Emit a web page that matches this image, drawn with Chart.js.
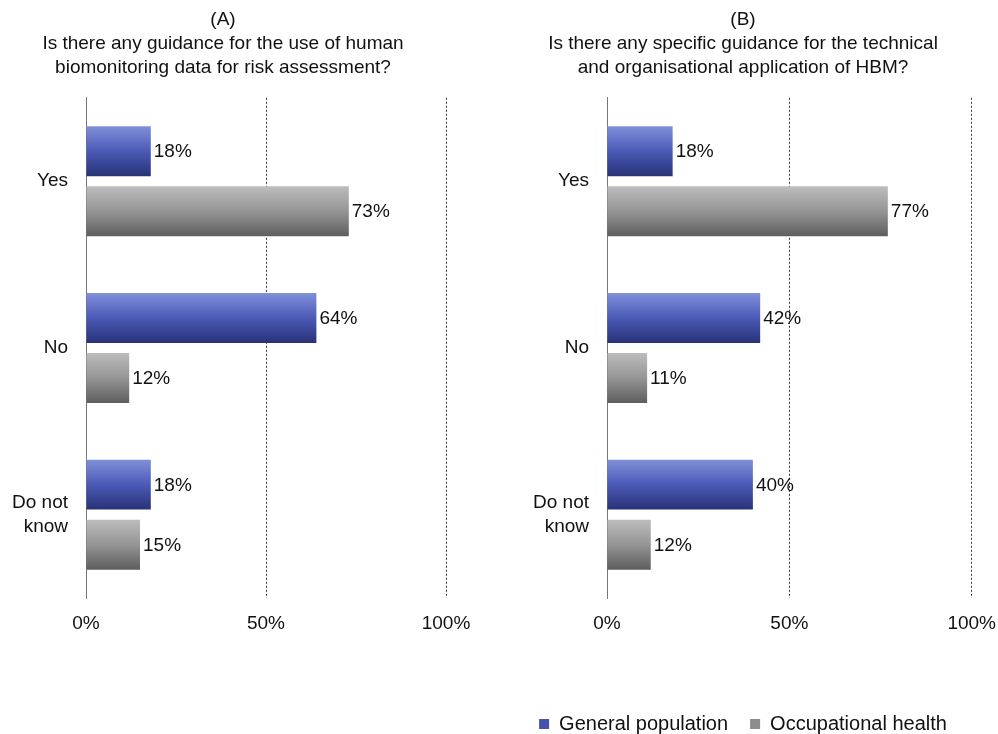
<!DOCTYPE html>
<html lang="en">
<head>
    <meta charset="UTF-8">
    <title>HBM guidance survey</title>
    <script src="https://cdn.jsdelivr.net/npm/chart.js"></script>
    <style>
        body {
            margin: 0;
            background: #ffffff;
            width: 998px;
            height: 734px;
            position: relative;
            overflow: hidden;
        }
        .panel {
            position: absolute;
            top: 0;
        }
        #panelA { left: 0; width: 490px; height: 734px; }
        #panelB { left: 493px; width: 517px; height: 744px; }
    </style>
</head>
<body>
    <div class="panel" id="panelA"><canvas id="chartA"></canvas></div>
    <div class="panel" id="panelB"><canvas id="chartB"></canvas></div>

    <script>
        const categories = ['Yes', 'No', ['Do not', 'know']];
        const seriesNames = ['General population', 'Occupational health'];

        const titleA = ['(A)', 'Is there any guidance for the use of human', 'biomonitoring data for risk assessment?'];
        const generalA = [18, 64, 18];
        const occupationalA = [73, 12, 15];

        const titleB = ['(B)', 'Is there any specific guidance for the technical', 'and organisational application of HBM?'];
        const generalB = [18, 42, 40];
        const occupationalB = [77, 11, 12];

        const xTicks = [0, 50, 100];

        const FONT = "'Liberation Sans', Arial, sans-serif";
        const PLOT_BOTTOM = 598;
        const CAT_PCT = 0.72;

        // vertical gradient for each bar, based on where its slot sits on the y scale
        function barGradient(top, mid, bottom, upper) {
            return function (ctx) {
                const chart = ctx.chart;
                const y = chart.scales.y;
                if (!chart.chartArea || !y) return mid;
                const center = y.getPixelForValue(ctx.dataIndex);
                const slot = (y.height / categories.length) * CAT_PCT / 2;
                const y0 = upper ? center - slot : center;
                const g = chart.ctx.createLinearGradient(0, y0 + 5, 0, y0 + slot - 5);
                g.addColorStop(0, top);
                g.addColorStop(0.5, mid);
                g.addColorStop(1, bottom);
                return g;
            };
        }

        const valueLabels = {
            id: 'valueLabels',
            afterDatasetsDraw(chart) {
                const c = chart.ctx;
                c.save();
                c.font = '19px ' + FONT;
                c.fillStyle = '#111';
                c.textAlign = 'left';
                c.textBaseline = 'middle';
                chart.data.datasets.forEach((ds, i) => {
                    chart.getDatasetMeta(i).data.forEach((bar, j) => {
                        c.fillText(ds.data[j] + '%', bar.x + 3, bar.y + 1);
                    });
                });
                c.restore();
            }
        };

        function makeChart(id, title, general, occupational, yWidth, padRight, showLegend) {
            return new Chart(document.getElementById(id), {
                type: 'bar',
                data: {
                    labels: categories,
                    datasets: [{
                        label: seriesNames[0],
                        data: general,
                        backgroundColor: barGradient('#8190da', '#4b5ab6', '#283276', true),
                        borderWidth: 0,
                        categoryPercentage: CAT_PCT,
                        barPercentage: 0.833
                    }, {
                        label: seriesNames[1],
                        data: occupational,
                        backgroundColor: barGradient('#bdbdbd', '#959595', '#5e5e5e', false),
                        borderWidth: 0,
                        categoryPercentage: CAT_PCT,
                        barPercentage: 0.833
                    }]
                },
                options: {
                    indexAxis: 'y',
                    responsive: true,
                    maintainAspectRatio: false,
                    animation: false,
                    layout: { padding: { left: 0, right: padRight, top: 0, bottom: 0 } },
                    plugins: {
                        title: {
                            display: true,
                            text: title,
                            color: '#111',
                            font: { family: FONT, size: 19, weight: 'normal', lineHeight: 1.26 },
                            padding: { top: 8, bottom: 18 }
                        },
                        legend: {
                            display: showLegend,
                            position: 'bottom',
                            labels: {
                                color: '#111',
                                font: { family: FONT, size: 20 },
                                boxWidth: 10,
                                boxHeight: 10,
                                padding: 22,
                                generateLabels(chart) {
                                    const fills = ['#4352ad', '#8c8c8c'];
                                    return chart.data.datasets.map((ds, i) => ({
                                        text: ds.label,
                                        fillStyle: fills[i],
                                        strokeStyle: fills[i],
                                        lineWidth: 0,
                                        fontColor: '#111',
                                        datasetIndex: i
                                    }));
                                }
                            }
                        },
                        tooltip: { enabled: false }
                    },
                    scales: {
                        x: {
                            min: 0,
                            max: 100,
                            afterBuildTicks(s) { s.ticks = xTicks.map(v => ({ value: v })); },
                            afterFit(s) {
                                const lg = s.chart.legend;
                                const lh = (lg && lg.options.display) ? lg.height : 0;
                                s.height = s.chart.height - PLOT_BOTTOM - lh;
                            },
                            ticks: {
                                color: '#111',
                                font: { family: FONT, size: 19 },
                                padding: 14,
                                callback: v => v + '%'
                            },
                            grid: {
                                color: ctx => ctx.tick && ctx.tick.value === 0 ? 'rgba(0,0,0,0)' : '#333',
                                lineWidth: 1,
                                drawTicks: false
                            },
                            border: { display: false, dash: [2, 2] }
                        },
                        y: {
                            afterFit(s) { s.width = yWidth; },
                            ticks: {
                                color: '#111',
                                font: { family: FONT, size: 19, lineHeight: 1.25 },
                                padding: 18
                            },
                            grid: { display: false, drawTicks: false },
                            border: { display: true, color: '#777', width: 1 }
                        }
                    }
                },
                plugins: [valueLabels]
            });
        }

        makeChart('chartA', titleA, generalA, occupationalA, 86, 44, false);
        makeChart('chartB', titleB, generalB, occupationalB, 114, 17, true);
    </script>
</body>
</html>
